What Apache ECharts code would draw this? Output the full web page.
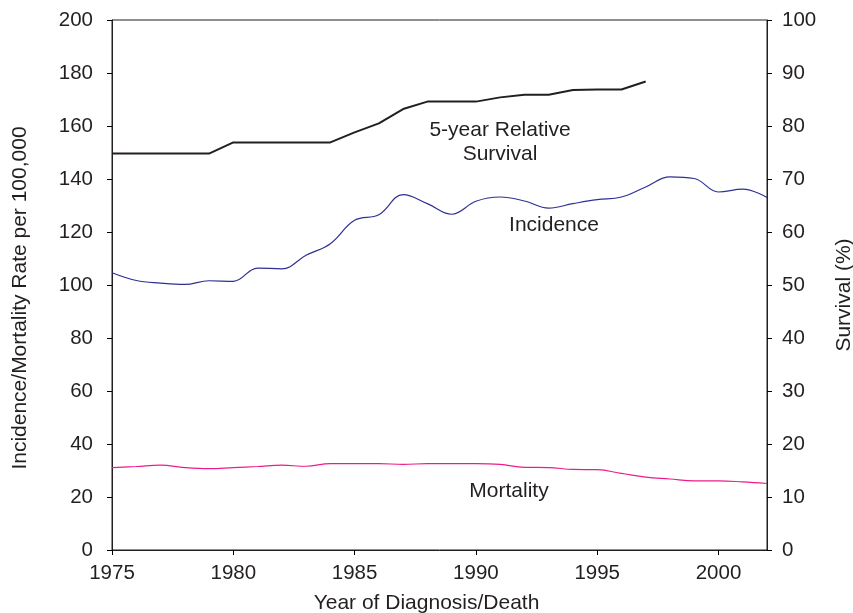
<!DOCTYPE html>
<html>
<head>
<meta charset="utf-8">
<script src="https://cdn.jsdelivr.net/npm/echarts@6/dist/echarts.min.js"></script>
<style>
  html, body { margin: 0; padding: 0; background: #fff; }
  #chart { width: 853px; height: 613px; }
</style>
</head>
<body>
<div id="chart"></div>
<script>
// 年份
var years = [1975, 1976, 1977, 1978, 1979, 1980, 1981, 1982, 1983, 1984, 1985, 1986, 1987, 1988,
             1989, 1990, 1991, 1992, 1993, 1994, 1995, 1996, 1997, 1998, 1999, 2000, 2001, 2002];
// incidence per 100,000 (left axis)
var incidence = [104.6, 101.7, 100.7, 100.2, 101.6, 101.4, 106.4, 106.1, 111.2, 115.6, 124.4, 126.5, 134.1, 130.7,
                 126.7, 131.6, 133.2, 131.7, 129.0, 130.7, 132.2, 133.2, 137.0, 140.8, 140.2, 135.1, 136.2, 133.0];
// mortality per 100,000 (left axis)
var mortality = [31.1, 31.5, 32.0, 31.1, 30.7, 31.1, 31.5, 32.0, 31.6, 32.6, 32.6, 32.6, 32.3, 32.6,
                 32.6, 32.6, 32.3, 31.2, 31.1, 30.4, 30.3, 28.9, 27.5, 26.8, 26.1, 26.1, 25.7, 25.1];
// 5-year relative survival % (right axis), 1975-1997
var survivalYears = [1975, 1976, 1977, 1978, 1979, 1980, 1981, 1982, 1983, 1984, 1985, 1986,
                     1987, 1988, 1989, 1990, 1991, 1992, 1993, 1994, 1995, 1996, 1997];
var survival = [74.8, 74.8, 74.8, 74.8, 74.8, 76.9, 76.9, 76.9, 76.9, 76.9, 78.8, 80.5,
                83.2, 84.6, 84.6, 84.6, 85.4, 85.9, 85.9, 86.8, 86.9, 86.9, 88.4];

function pairs(xs, ys) {
    return xs.map(function (x, i) { return [x, ys[i]]; });
}

var FONT = 'Liberation Sans';
var INK = '#231f20';
var NOTE_FONT = '21px "Liberation Sans"';

var myChart = echarts.init(document.getElementById('chart'));

var option = {
    animation: false,
    textStyle: { fontFamily: FONT },
    grid: {
        left: 112, right: 86, top: 20, bottom: 63,
        show: true, borderColor: INK, borderWidth: 1,
        outerBoundsMode: 'none'
    },
    xAxis: {
        type: 'value',
        min: 1975, max: 2002, interval: 5,
        name: 'Year of Diagnosis/Death',
        nameLocation: 'middle',
        nameGap: 43,
        nameTextStyle: { color: INK, fontSize: 21, fontFamily: FONT, padding: [0, 26, 0, 0] },
        axisLine: { lineStyle: { color: INK, width: 1 } },
        axisTick: { length: 5, lineStyle: { color: '#000' } },
        axisLabel: {
            color: INK, fontSize: 20.5, fontFamily: FONT, margin: 13,
            showMaxLabel: false,
            formatter: function (v) { return v % 5 === 0 ? String(v) : ''; }
        },
        splitLine: { show: false }
    },
    yAxis: [
        {
            type: 'value',
            min: 0, max: 200, interval: 20,
            name: 'Incidence/Mortality Rate per 100,000',
            nameLocation: 'middle',
            nameGap: 81,
            nameRotate: 90,
            nameTextStyle: { color: INK, fontSize: 21, fontFamily: FONT, padding: [0, 26, 0, 0] },
            axisLine: { show: true, lineStyle: { color: INK } },
            axisTick: { show: true, length: 5, lineStyle: { color: '#000' } },
            axisLabel: { color: INK, fontSize: 20.5, fontFamily: FONT, margin: 19 },
            splitLine: { show: false }
        },
        {
            type: 'value',
            position: 'right',
            min: 0, max: 100, interval: 10,
            name: 'Survival (%)',
            nameLocation: 'middle',
            nameGap: 67,
            nameRotate: 90,
            nameTextStyle: { color: INK, fontSize: 21, fontFamily: FONT, padding: [0, 20, 0, 0] },
            axisLine: { show: true, lineStyle: { color: INK } },
            axisTick: { show: true, length: 5, lineStyle: { color: '#000' } },
            axisLabel: { color: INK, fontSize: 20.5, fontFamily: FONT, margin: 15 },
            splitLine: { show: false }
        }
    ],
    series: [
        {
            name: '5-year Relative Survival',
            type: 'line',
            yAxisIndex: 1,
            data: pairs(survivalYears, survival),
            showSymbol: false,
            lineStyle: { color: INK, width: 2 }
        },
        {
            name: 'Incidence',
            type: 'line',
            data: pairs(years, incidence),
            showSymbol: false,
            smooth: 0.4,
            lineStyle: { color: '#2e3192', width: 1.2 }
        },
        {
            name: 'Mortality',
            type: 'line',
            data: pairs(years, mortality),
            showSymbol: false,
            smooth: 0.4,
            lineStyle: { color: '#ec1c8c', width: 1.2 }
        }
    ],
    // 曲线旁的文字标注
    graphic: [
        { type: 'text', x: 500, y: 130, style: { text: '5-year Relative', font: NOTE_FONT, fill: INK, textAlign: 'center', textVerticalAlign: 'middle' } },
        { type: 'text', x: 500, y: 154, style: { text: 'Survival', font: NOTE_FONT, fill: INK, textAlign: 'center', textVerticalAlign: 'middle' } },
        { type: 'text', x: 554, y: 225, style: { text: 'Incidence', font: NOTE_FONT, fill: INK, textAlign: 'center', textVerticalAlign: 'middle' } },
        { type: 'text', x: 509, y: 491, style: { text: 'Mortality', font: NOTE_FONT, fill: INK, textAlign: 'center', textVerticalAlign: 'middle' } }
    ]
};

myChart.setOption(option);
</script>
</body>
</html>
